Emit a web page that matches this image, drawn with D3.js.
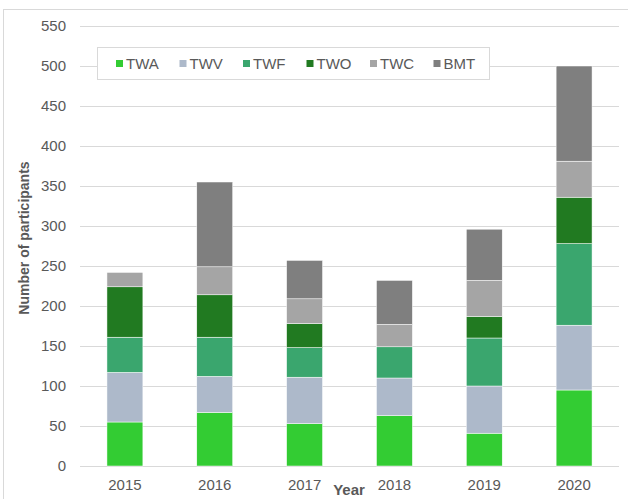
<!DOCTYPE html>
<html>
<head>
<meta charset="utf-8">
<script src="https://cdn.jsdelivr.net/npm/d3@7"></script>
<style>
  html, body { margin: 0; padding: 0; background: #fff; }
  svg { display: block; font-family: "Liberation Sans", Arial, sans-serif; }
</style>
</head>
<body>
<div id="chart"></div>
<script>
const years = ["2015", "2016", "2017", "2018", "2019", "2020"];
const seriesNames = ["TWA", "TWV", "TWF", "TWO", "TWC", "BMT"];
const TWA = [55, 67, 53, 63, 41, 95];
const TWV = [62, 45, 58, 47, 59, 81];
const TWF = [44, 49, 37, 39, 60, 102];
const TWO = [63, 53, 30, 0, 27, 58];
const TWC = [18, 35, 31, 28, 45, 45];
const BMT = [0, 106, 48, 55, 64, 119];
const yTicks = [0, 50, 100, 150, 200, 250, 300, 350, 400, 450, 500, 550];

const colors = {
  TWA: "#33cc33", TWV: "#adb9ca", TWF: "#3aa66e",
  TWO: "#217a21", TWC: "#a5a5a5", BMT: "#7f7f7f"
};

const width = 628, height = 499;
const seriesValues = { TWA, TWV, TWF, TWO, TWC, BMT };
const rows = years.map((year, i) => {
  const row = { year };
  seriesNames.forEach(s => { row[s] = seriesValues[s][i]; });
  return row;
});

const svg = d3.select("#chart")
  .append("svg")
  .attr("width", width)
  .attr("height", height);

// chart area border
svg.append("rect")
  .attr("x", 3.5).attr("y", 9.5)
  .attr("width", 640).attr("height", 500)
  .attr("fill", "none")
  .attr("stroke", "#d9d9d9");

const x = d3.scaleBand()
  .domain(years)
  .range([80, 619])
  .paddingInner(0.6)
  .paddingOuter(0.3);

const y = d3.scaleLinear()
  .domain([0, 550])
  .range([466, 26]);

// gridlines
svg.append("g")
  .selectAll("line")
  .data(yTicks)
  .enter().append("line")
  .attr("x1", 80).attr("x2", 619)
  .attr("y1", d => Math.round(y(d)) + 0.5)
  .attr("y2", d => Math.round(y(d)) + 0.5)
  .attr("stroke", "#d9d9d9");

svg.append("g")
  .selectAll("text")
  .data(yTicks)
  .enter().append("text")
  .attr("x", 66)
  .attr("y", d => y(d))
  .attr("dy", "0.35em")
  .attr("text-anchor", "end")
  .attr("font-size", 15)
  .attr("fill", "#595959")
  .text(d => d);

// stacked bars
const stacked = d3.stack().keys(seriesNames)(rows);

svg.append("g")
  .selectAll("g")
  .data(stacked)
  .enter().append("g")
  .attr("fill", d => colors[d.key])
  .selectAll("rect")
  .data(d => d.filter(p => p[1] > p[0]))
  .enter().append("rect")
  .attr("x", d => x(d.data.year))
  .attr("y", d => y(d[1]))
  .attr("width", x.bandwidth())
  .attr("height", d => y(d[0]) - y(d[1]))
  .attr("stroke", "#ffffff")
  .attr("stroke-width", 0.5);

// x labels
svg.append("g")
  .selectAll("text")
  .data(years)
  .enter().append("text")
  .attr("x", d => x(d) + x.bandwidth() / 2)
  .attr("y", 490)
  .attr("text-anchor", "middle")
  .attr("font-size", 15)
  .attr("fill", "#595959")
  .text(d => d);

// axis titles
svg.append("text")
  .attr("transform", "translate(29,238) rotate(-90)")
  .attr("text-anchor", "middle")
  .attr("font-size", 14)
  .attr("font-weight", "bold")
  .attr("fill", "#595959")
  .text("Number of participants");

svg.append("text")
  .attr("x", 349)
  .attr("y", 495)
  .attr("text-anchor", "middle")
  .attr("font-size", 15)
  .attr("font-weight", "bold")
  .attr("fill", "#595959")
  .text("Year");

// legend
const legend = svg.append("g");
legend.append("rect")
  .attr("x", 97.5).attr("y", 47.5)
  .attr("width", 392).attr("height", 32)
  .attr("fill", "#fff")
  .attr("stroke", "#d9d9d9");

const item = legend.selectAll("g")
  .data(seriesNames)
  .enter().append("g")
  .attr("transform", (d, i) => `translate(${116 + i * 63.5},0)`);

item.append("rect")
  .attr("x", 0).attr("y", 60)
  .attr("width", 7).attr("height", 7)
  .attr("fill", d => colors[d]);

item.append("text")
  .attr("x", 10)
  .attr("y", 63.5)
  .attr("dy", "0.35em")
  .attr("font-size", 15)
  .attr("fill", "#595959")
  .text(d => d);
</script>
</body>
</html>
